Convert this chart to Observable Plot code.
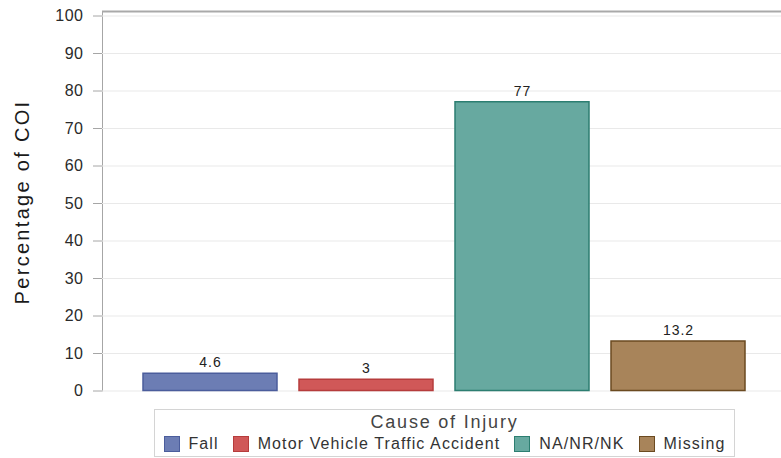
<!DOCTYPE html>
<html>
<head>
<meta charset="utf-8">
<script src="https://cdn.jsdelivr.net/npm/d3@7"></script>
<script src="https://cdn.jsdelivr.net/npm/@observablehq/plot@0.6"></script>
<style>
  body { margin: 0; background: #fff; font-family: "Liberation Sans", Arial, sans-serif; }
  #chart { position: relative; width: 781px; height: 458px; overflow: hidden; }
  #chart svg { position: absolute; left: 0; top: 0; }
  g[aria-label="y-axis tick label"] { fill: #2a2a2a; letter-spacing: 0.5px; }
  g[aria-label="text"] text { letter-spacing: 1px; }
  .ytitle { position: absolute; left: 22px; top: 202px; transform: translate(-50%, -50%) rotate(-90deg);
            white-space: nowrap; font-size: 20px; letter-spacing: 2.3px; color: #1a1a1a; }
  .legend { position: absolute; left: 154px; top: 409px; width: 581px; height: 48px;
            border: 1.5px solid #d4d4d4; box-sizing: border-box; }
  .legend .title { position: absolute; left: 0; right: 0; top: 2px; text-align: center;
                   font-size: 18px; letter-spacing: 1.8px; color: #444; }
  .legend .row { position: absolute; left: 0; right: 0; top: 25px; display: flex;
                 justify-content: center; gap: 14px; font-size: 16px; letter-spacing: 1.1px; color: #333; }
  .legend .item { display: flex; align-items: center; }
  .legend .sw { width: 16px; height: 16px; box-sizing: border-box; border: 1.5px solid; margin-right: 9px; }
</style>
</head>
<body>
<div id="chart"></div>
<script>
const categories = ["Fall", "Motor Vehicle Traffic Accident", "NA/NR/NK", "Missing"];
const values = [4.6, 3, 77, 13.2];
const valueLabels = ["4.6", "3", "77", "13.2"];
const fills = ["#6c7db4", "#d05858", "#67a9a0", "#a8845a"];
const strokes = ["#4b5d9c", "#b63c3c", "#2c7e71", "#6b4a20"];
const yTicks = [0, 10, 20, 30, 40, 50, 60, 70, 80, 90, 100];
const yMax = 101.2;
const yTitle = "Percentage of COI";
const legendTitle = "Cause of Injury";

const data = categories.map((c, i) => ({cat: c, value: values[i], label: valueLabels[i], fill: fills[i], stroke: strokes[i]}));

const svg = Plot.plot({
  width: 781,
  height: 400,
  marginLeft: 102,
  marginRight: 0,
  marginTop: 11,
  marginBottom: 9.5,
  style: { fontFamily: "'Liberation Sans', Arial, sans-serif", fontSize: "16px", color: "#a6a6a6", background: "white" },
  x: { domain: categories, range: [102, 786], paddingInner: 0.142, paddingOuter: 0.255, axis: null },
  y: { domain: [0, yMax], ticks: yTicks, tickSize: 9, tickPadding: 10, line: true, label: null, tickFormat: d => String(d) },
  marks: [
    Plot.ruleY(yTicks, { stroke: "#e9e9e9", strokeWidth: 1 }),
    Plot.ruleY([yMax], { stroke: "#a9a9a9", strokeWidth: 2 }),
    Plot.barY(data, { x: "cat", y: "value", fill: "fill", stroke: "stroke", strokeWidth: 1.5 }),
    Plot.text(data, { x: "cat", y: "value", text: "label", dy: -11, fontSize: 14, fill: "#222" })
  ]
});
const chart = document.getElementById("chart");
chart.appendChild(svg);

const yt = document.createElement("div");
yt.className = "ytitle";
yt.textContent = yTitle;
chart.appendChild(yt);

const legend = document.createElement("div");
legend.className = "legend";
const t = document.createElement("div");
t.className = "title";
t.textContent = legendTitle;
legend.appendChild(t);
const row = document.createElement("div");
row.className = "row";
categories.forEach((c, i) => {
  const item = document.createElement("div");
  item.className = "item";
  const sw = document.createElement("div");
  sw.className = "sw";
  sw.style.background = fills[i];
  sw.style.borderColor = strokes[i];
  const lab = document.createElement("span");
  lab.textContent = c;
  item.appendChild(sw);
  item.appendChild(lab);
  row.appendChild(item);
});
legend.appendChild(row);
chart.appendChild(legend);
</script>
</body>
</html>
